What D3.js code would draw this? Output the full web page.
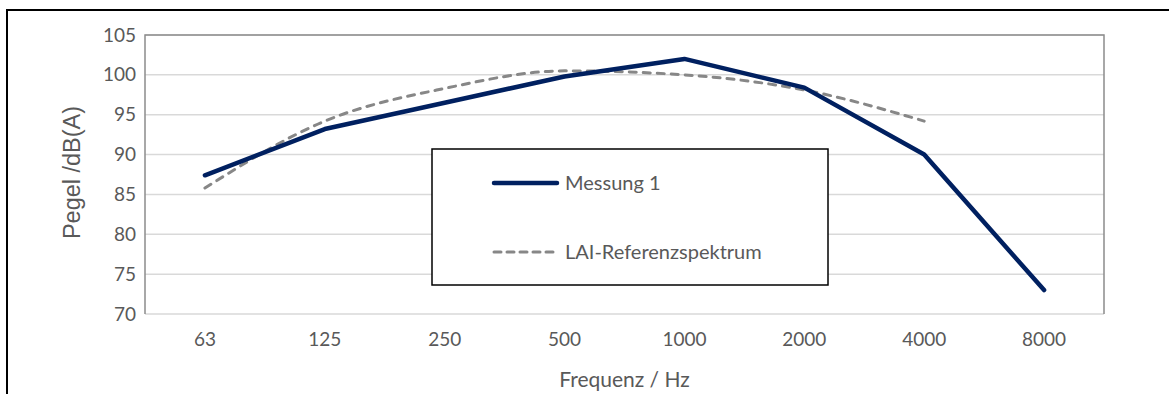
<!DOCTYPE html>
<html>
<head>
<meta charset="utf-8">
<script src="https://cdn.jsdelivr.net/npm/d3@7"></script>
<style>
  body { margin: 0; background: #fff; }
  svg text { font-family: Lato, "Open Sans", sans-serif; fill: #595959; }
</style>
</head>
<body>
<svg id="chart" width="1169" height="394"></svg>
<script>
// frequency bands (x categories)
var frequencies = ["63", "125", "250", "500", "1000", "2000", "4000", "8000"]
// measured levels, dB(A)
var messung1 = [87.4, 93.2, 96.5, 99.8, 102.0, 98.4, 90.0, 73.0]
// LAI reference spectrum (no value at 8000)
var laiReferenz = [85.8, 94.2, 98.3, 100.5, 100.0, 98.1, 94.2, null]
var yTicks = [70, 75, 80, 85, 90, 95, 100, 105]

var seriesNames = ["Messung 1", "LAI-Referenzspektrum"]

var svg = d3.select("#chart"),
    margin = { top: 35, right: 65, bottom: 80, left: 145 },
    width = +svg.attr("width") - margin.left - margin.right,
    height = +svg.attr("height") - margin.top - margin.bottom

// outer chart frame (runs off the right and bottom of the picture)
svg.append("rect")
    .attr("x", 7).attr("y", 10)
    .attr("width", 1200).attr("height", 420)
    .attr("fill", "none")
    .attr("stroke", "#000")
    .attr("stroke-width", 2)

var g = svg.append("g")
    .attr("transform", translate(margin.left, margin.top))

var x = d3.scaleBand()
    .domain(frequencies)
    .range([0, width])

var y = d3.scaleLinear()
    .domain([70, 105])
    .range([height, 0])

// gridlines
g.append("g")
    .selectAll("line")
    .data(yTicks.slice(1))
    .enter().append("line")
    .attr("x1", 0).attr("x2", width)
    .attr("y1", d => y(d)).attr("y2", d => y(d))
    .attr("stroke", "#d9d9d9")
    .attr("stroke-width", 1.5)

// bottom axis line
g.append("line")
    .attr("x1", 0).attr("x2", width)
    .attr("y1", height).attr("y2", height)
    .attr("stroke", "#d9d9d9")
    .attr("stroke-width", 1.5)

// plot area border: left, top, right
g.append("path")
    .attr("d", "M0," + height + "V0H" + width + "V" + height)
    .attr("fill", "none")
    .attr("stroke", "#8c8c8c")
    .attr("stroke-width", 1.5)

// y axis labels
var yAxis = g.append("g")
    .call(d3.axisLeft(y).tickValues(yTicks).tickSize(0).tickPadding(9))
yAxis.select(".domain").remove()
yAxis.selectAll("text")
    .attr("font-size", 19)
    .attr("font-family", null)
    .attr("fill", null)

// x axis labels
var xAxis = g.append("g")
    .attr("transform", translate(0, height))
    .call(d3.axisBottom(x).tickSize(0).tickPadding(19))
xAxis.select(".domain").remove()
xAxis.selectAll("text")
    .attr("font-size", 19)
    .attr("font-family", null)
    .attr("fill", null)

// axis titles
svg.append("text")
    .attr("x", margin.left + width / 2)
    .attr("y", 387)
    .attr("text-anchor", "middle")
    .attr("font-size", 21)
    .text("Frequenz / Hz")

svg.append("text")
    .attr("transform", "translate(80," + (margin.top + height / 2 - 2) + ") rotate(-90)")
    .attr("text-anchor", "middle")
    .style("font-family", "'Liberation Sans', Arial, sans-serif")
    .attr("font-size", 23.5)
    .text("Pegel /dB(A)")

// lines
var lineLinear = d3.line()
    .defined(d => d != null)
    .x((d, i) => x(frequencies[i]) + x.bandwidth() / 2)
    .y(d => y(d))

var lineSmooth = d3.line()
    .defined(d => d != null)
    .curve(d3.curveMonotoneX)
    .x((d, i) => x(frequencies[i]) + x.bandwidth() / 2)
    .y(d => y(d))

g.append("path")
    .datum(laiReferenz)
    .attr("d", lineSmooth)
    .attr("fill", "none")
    .attr("stroke", "#878787")
    .attr("stroke-width", 3)
    .attr("stroke-dasharray", "7,7")
    .attr("stroke-linecap", "round")

g.append("path")
    .datum(messung1)
    .attr("d", lineLinear)
    .attr("fill", "none")
    .attr("stroke", "#002060")
    .attr("stroke-width", 4.5)
    .attr("stroke-linejoin", "round")
    .attr("stroke-linecap", "round")

// legend
var legend = svg.append("g").attr("transform", translate(432, 149))
legend.append("rect")
    .attr("width", 396).attr("height", 136)
    .attr("fill", "#fff")
    .attr("stroke", "#000")
    .attr("stroke-width", 1.5)

var legendItems = [
    { name: seriesNames[0], color: "#002060", w: 4.5, dash: null, y: 34 },
    { name: seriesNames[1], color: "#878787", w: 3, dash: "7,6", y: 103 }
]
legendItems.forEach(item => {
    legend.append("line")
        .attr("x1", 62).attr("x2", 125)
        .attr("y1", item.y).attr("y2", item.y)
        .attr("stroke", item.color)
        .attr("stroke-width", item.w)
        .attr("stroke-dasharray", item.dash)
        .attr("stroke-linecap", "round")
    legend.append("text")
        .attr("x", 133).attr("y", item.y)
        .attr("dy", "0.35em")
        .attr("font-size", 20)
        .text(item.name)
})

function translate(x, y) {
    return "translate(" + x + "," + y + ")"
}
</script>
</body>
</html>
